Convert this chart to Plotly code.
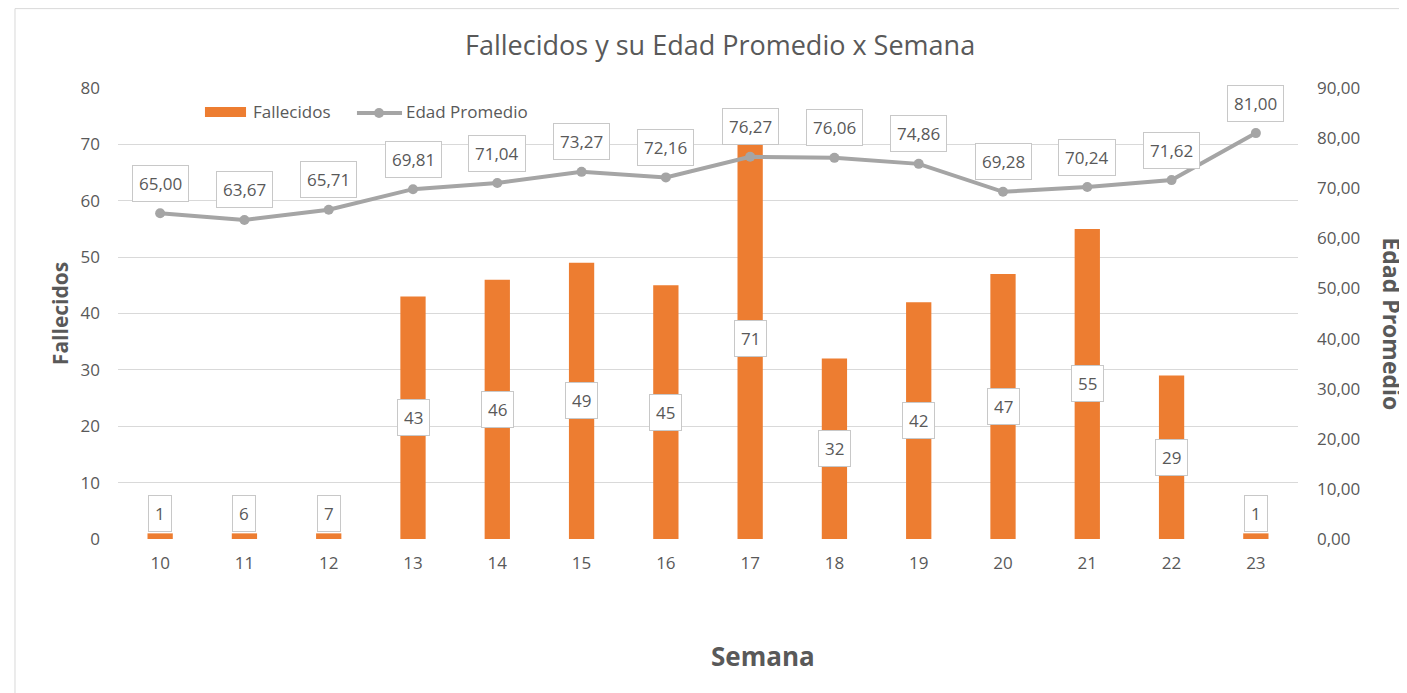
import plotly.graph_objects as go

semanas = ["10", "11", "12", "13", "14", "15", "16", "17", "18", "19", "20", "21", "22", "23"]
fallecidos_etiqueta = [1, 6, 7, 43, 46, 49, 45, 71, 32, 42, 47, 55, 29, 1]
fallecidos_barra = [1, 1, 1, 43, 46, 49, 45, 71, 32, 42, 47, 55, 29, 1]
edad_promedio = [65.00, 63.67, 65.71, 69.81, 71.04, 73.27, 72.16, 76.27, 76.06, 74.86, 69.28, 70.24, 71.62, 81.00]

ORANGE = "#ED7D31"
GRAY = "#A5A5A5"
TXT = "#595959"
FONT = "Open Sans"
BOX = dict(bgcolor="white", bordercolor="#C8C8C8", borderwidth=1, borderpad=6)

fig = go.Figure()
fig.add_trace(go.Bar(x=semanas, y=fallecidos_barra, name="Fallecidos",
                     marker=dict(color=ORANGE, line=dict(width=0)), width=0.3, yaxis="y"))
fig.add_trace(go.Scatter(x=semanas, y=edad_promedio, name="Edad Promedio", mode="lines+markers",
                         line=dict(color=GRAY, width=4), marker=dict(color=GRAY, size=10),
                         yaxis="y2"))

ann = []
for i, (h, lab) in enumerate(zip(fallecidos_barra, fallecidos_etiqueta)):
    if h >= 10:
        ann.append(dict(x=i, y=h / 2, xref="x", yref="y", text=str(lab), showarrow=False,
                        xanchor="center", yanchor="middle",
                        font=dict(size=17, color=TXT, family=FONT), **BOX))
    else:
        ann.append(dict(x=i, y=h, xref="x", yref="y", text=str(lab), showarrow=False,
                        xanchor="center", yanchor="bottom", yshift=1,
                        font=dict(size=17, color=TXT, family=FONT), **BOX))
for i, v in enumerate(edad_promedio):
    ann.append(dict(x=i, y=v, xref="x", yref="y2", text=f"{v:.2f}".replace(".", ","),
                    showarrow=False, xanchor="center", yanchor="middle", yshift=30,
                    font=dict(size=17, color=TXT, family=FONT), **BOX))

ann.append(dict(x=-0.049, y=0.499, xref="paper", yref="paper", text="<b>Fallecidos</b>",
                textangle=-90, showarrow=False, xanchor="center", yanchor="middle",
                font=dict(size=21, color=TXT, family=FONT)))
ann.append(dict(x=1.0797, y=0.478, xref="paper", yref="paper", text="<b>Edad Promedio</b>",
                textangle=90, showarrow=False, xanchor="center", yanchor="middle",
                font=dict(size=23, color=TXT, family=FONT)))
ann.append(dict(x=0.547, y=-0.259, xref="paper", yref="paper", text="<b>Semana</b>",
                showarrow=False, xanchor="center", yanchor="middle",
                font=dict(size=26, color=TXT, family=FONT)))
# legend texts
ann.append(dict(x=0.1136, y=0.9468, xref="paper", yref="paper", text="Fallecidos",
                xanchor="left", yanchor="middle", showarrow=False, borderpad=0,
                font=dict(size=17, color=TXT, family=FONT)))
ann.append(dict(x=0.2432, y=0.9468, xref="paper", yref="paper", text="Edad Promedio",
                xanchor="left", yanchor="middle", showarrow=False, borderpad=0,
                font=dict(size=17, color=TXT, family=FONT)))

shapes = [
    dict(type="rect", xref="paper", yref="paper", x0=-0.0873, x1=1.2, y0=-0.5, y1=1.176,
         line=dict(color="#D9D9D9", width=1), fillcolor="rgba(0,0,0,0)", layer="below"),
    dict(type="rect", xref="paper", yref="paper", x0=0.0737, x1=0.1085, y0=0.9357, y1=0.9579,
         line=dict(width=0), fillcolor=ORANGE),
    dict(type="line", xref="paper", yref="paper", x0=0.2025, x1=0.2407, y0=0.9446, y1=0.9446,
         line=dict(color=GRAY, width=4)),
    dict(type="circle", xref="paper", yref="paper", xsizemode="pixel", ysizemode="pixel",
         xanchor=0.2212, yanchor=0.9446, x0=-5, x1=5, y0=-5, y1=5,
         line=dict(width=0), fillcolor=GRAY),
]

fig.update_layout(
    width=1399, height=685,
    paper_bgcolor="white", plot_bgcolor="white",
    margin=dict(l=110, r=109, t=80, b=154),
    separators=",.",
    font=dict(family=FONT, color=TXT, size=17),
    title=dict(text="Fallecidos y su Edad Promedio x Semana", x=0.509, xref="container",
               y=0.9445, yref="container", yanchor="middle", xanchor="center",
               font=dict(size=27, color=TXT, family=FONT)),
    xaxis=dict(type="category", range=[-0.5, 13.5], showgrid=False, showline=False,
               zeroline=False, ticks="", ticklabelstandoff=12, tickfont=dict(size=17, color=TXT)),
    yaxis=dict(range=[0, 80], dtick=10, showgrid=True, gridcolor="#D9D9D9", gridwidth=1,
               zeroline=False, showline=False, ticks="", ticklabelstandoff=17,
               tickfont=dict(size=17, color=TXT)),
    yaxis2=dict(range=[0, 90], dtick=10, overlaying="y", side="right", showgrid=False,
                zeroline=False, showline=False, tickformat=".2f", ticks="", ticklabelstandoff=18,
                tickfont=dict(size=17, color=TXT)),
    showlegend=False,
    bargap=0.7,
    annotations=ann,
    shapes=shapes,
)

fig.write_html("out.html")
